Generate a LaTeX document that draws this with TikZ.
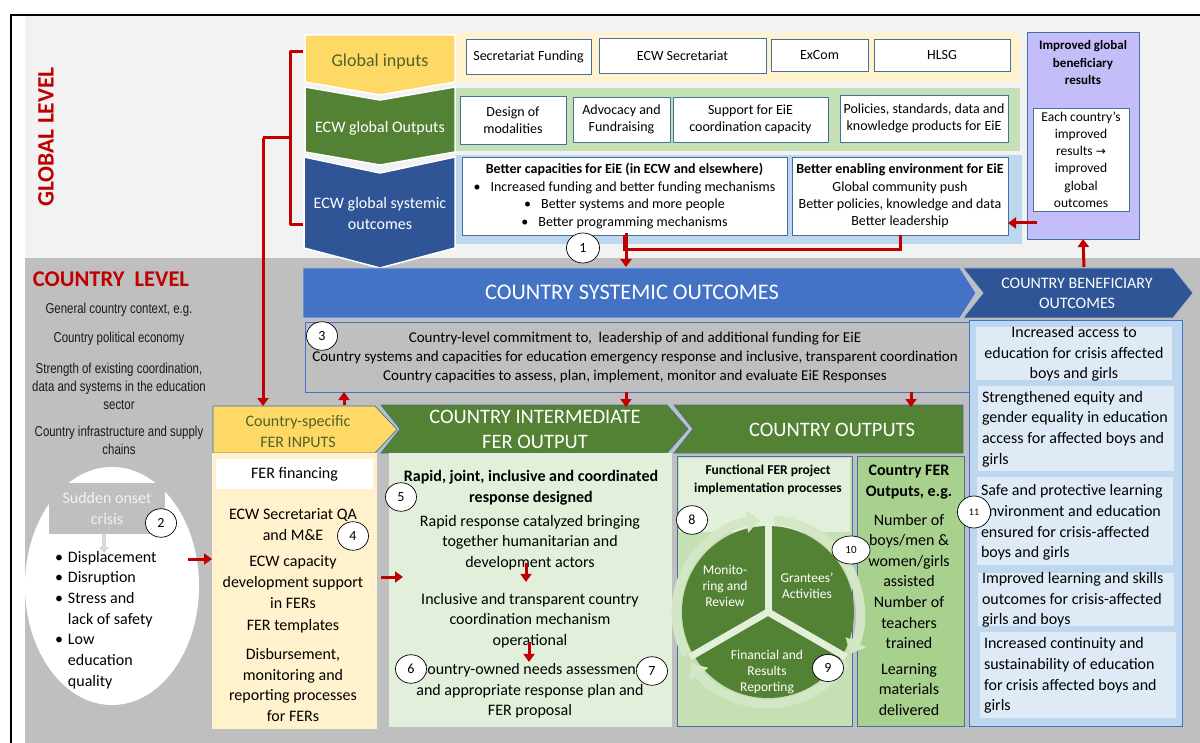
\documentclass[tikz,border=0pt]{standalone}
\usepackage{fontspec}
\setmainfont{Carlito}
\newfontfamily\narrowfont[FakeStretch=0.80]{Liberation Sans}
\newfontfamily\symfont{DejaVu Sans}
\usetikzlibrary{arrows.meta,shapes.geometric,calc}
\newcommand\fsz[2]{\fontsize{#1}{#2}\selectfont}
\newcommand\mybul{\makebox[13pt][l]{\textbullet}}
\definecolor{bgl}{HTML}{F2F2F2}
\definecolor{bgd}{HTML}{BFBFBF}
\definecolor{ecwred}{HTML}{C00000}
\definecolor{yel}{HTML}{FFD966}
\definecolor{yell}{HTML}{FFF2CC}
\definecolor{grn}{HTML}{548235}
\definecolor{grnl}{HTML}{E2EFDA}
\definecolor{grnm}{HTML}{C5E0B4}
\definecolor{grnd}{HTML}{A9D18E}
\definecolor{ringc}{HTML}{D3E7C6}
\definecolor{blu}{HTML}{2F5597}
\definecolor{blum}{HTML}{4472C4}
\definecolor{blul}{HTML}{BDD7EE}
\definecolor{bluvl}{HTML}{DEEBF7}
\definecolor{purpc}{HTML}{C3BEF7}
\definecolor{bord}{HTML}{41719C}
\definecolor{olivec}{HTML}{4F6228}
\definecolor{ctxc}{HTML}{1A1A1A}
\definecolor{ltg}{HTML}{D9D9D9}
\begin{document}
\begin{tikzpicture}[x=1pt,y=-1pt,
  every node/.style={inner sep=0pt,outer sep=0pt},
  wbox/.style={draw=bord,line width=0.8pt,fill=white,align=center,font=\fsz{14}{17.4}},
  num/.style={ellipse,draw=black,line width=0.7pt,fill=white,minimum width=31pt,minimum height=28.5pt,font=\fsz{14}{16}},
  redarr/.style={draw=ecwred,line width=3pt,-{Triangle[length=8pt,width=11pt]}},
  redln/.style={draw=ecwred,line width=3pt},
  gchev/.style={draw=white,line width=1.5pt},
  cchev/.style={draw=bord,line width=0.7pt},
  ctx/.style={font=\narrowfont\fsz{14.3}{18},text=ctxc,align=center},
  bbox/.style={fill=bluvl,minimum width=196pt},
  btxt/.style={font=\fsz{16}{20.7},align=left,anchor=west},
  ptxt/.style={font=\fsz{16}{20.6},align=center},
  wtxt/.style={font=\fsz{13.5}{15.8},align=center,text=white},
]
\useasboundingbox (0,0) rectangle (1200,743);
\fill[white] (0,0) rectangle (1200,743);
\fill[bgl] (25,16) rectangle (1200,258);
\fill[bgd] (25,258) rectangle (1200,743);
\draw[black,line width=2pt] (1200,15) -- (11,15) -- (11,743);

% level labels
\node[rotate=90,font=\fsz{23.5}{26}\bfseries,text=ecwred] (glevel) at (46,137) {GLOBAL LEVEL};
\node[font=\fsz{22.5}{26}\bfseries,text=ecwred] (clevel) at (111,279) {COUNTRY\ \ LEVEL};

% context
\node[ctx] (ctx1) at (119,310) {General country context, e.g.};
\node[ctx] (ctx2) at (119,339) {Country political economy};
\node[ctx] (ctx3) at (119,386) {Strength of existing coordination,\\data and systems in the education\\sector};
\node[ctx] (ctx4) at (119,440) {Country infrastructure and supply\\chains};

% global panels
\fill[yell] (455,33) rectangle (1020,82);
\fill[grnm] (455,88) rectangle (1020,151);
\fill[blul] (455,155) rectangle (1022,244);

% global chevrons
\filldraw[fill=yel,gchev] (305,35) -- (455,35) -- (455,82) -- (380,95) -- (305,82) -- cycle;
\filldraw[fill=grn,gchev] (305,87) -- (380,100) -- (455,87) -- (455,152) -- (380,165) -- (305,152) -- cycle;
\filldraw[fill=blu,gchev] (304,157) -- (380,173) -- (455,157) -- (455,248) -- (380,268) -- (304,248) -- cycle;
\node[font=\fsz{18}{22},text=olivec] (gin) at (380,62) {Global inputs};
\node[font=\fsz{16}{20},text=white] (gout) at (380,128) {ECW global Outputs};
\node[font=\fsz{16}{21},text=white,align=center] (gsys) at (380,214) {ECW global systemic\\outcomes};

% global input boxes
\node[wbox,minimum width=125pt,minimum height=35pt] (secf) at (528.5,56.5) {Secretariat Funding};
\node[wbox,minimum width=167pt,minimum height=35pt] (secr) at (682.5,55.5) {ECW Secretariat};
\node[wbox,minimum width=97pt,minimum height=32pt] (excom) at (819.5,55) {ExCom};
\node[wbox,minimum width=136pt,minimum height=32pt] (hlsg) at (942,55) {HLSG};
% global output boxes
\node[wbox,minimum width=106pt,minimum height=48pt] (design) at (513,120) {Design of\\modalities};
\node[wbox,minimum width=97pt,minimum height=45pt] (advoc) at (621.5,119.5) {Advocacy and\\Fundraising};
\node[wbox,minimum width=155pt,minimum height=45pt] (supp) at (750.5,119.5) {Support for EiE\\coordination capacity};
\node[wbox,minimum width=168pt,minimum height=47pt] (polic) at (924,118.5) {Policies, standards, data and\\knowledge products for EiE};
% global outcomes boxes
\node[wbox,minimum width=325pt,minimum height=78pt] (bcap) at (624.5,196) {\textbf{Better capacities for EiE (in ECW and elsewhere)}\\\textbullet\hspace{10pt}Increased funding and better funding mechanisms\\\textbullet\hspace{10pt}Better systems and more people\\\textbullet\hspace{10pt}Better programming mechanisms};
\node[wbox,minimum width=216pt,minimum height=78pt] (benv) at (900,196) {\textbf{Better enabling environment for EiE}\\Global community push\\Better policies, knowledge and data\\Better leadership};

% purple box
\node[fill=purpc,draw=bord,line width=0.8pt,minimum width=112pt,minimum height=207pt] (purp) at (1083,135.5) {};
\node[font=\fsz{13}{17.5}\bfseries,align=center] (purpt) at (1083,62.5) {Improved global\\beneficiary\\results};
\node[wbox,font=\fsz{13.5}{17.2},minimum width=96pt,minimum height=103pt] (purpin) at (1081,159.5) {Each country’s\\improved\\results {\symfont\fsz{12}{14}→}\\improved\\global\\outcomes};

% bracket and connector to FER inputs
\draw[redln,line join=round] (303,52) -- (290,52) -- (290,225) -- (303,225);
\coordinate (brk) at (263,138);
\coordinate (ferinTop) at (263,406);
\draw[redln] (290,138) -- (brk);
\draw[redarr] (brk) -- (ferinTop);

% country systemic outcomes
\filldraw[fill=blum,draw=white!60!blum,line width=0.8pt] (303,268) -- (960,268) -- (976,293) -- (960,318) -- (303,318) -- cycle;
\node[font=\fsz{22.3}{26},text=white] (csys) at (632,292) {COUNTRY SYSTEMIC OUTCOMES};
\filldraw[fill=blu,draw=white!60!blu,line width=0.8pt] (963,268) -- (1173,268) -- (1193,293) -- (1173,318) -- (963,318) -- (983,293) -- cycle;
\node[font=\fsz{16}{20},text=white,align=center] (cben) at (1077,293) {COUNTRY BENEFICIARY\\OUTCOMES};

% global -> country arrows
\draw[redln] (benv.south) -- ++(0,15) -| (bcap.south);
\draw[redarr] (bcap.south) -- ++(1.5,0) -- ++(0,32);
\node[num,minimum width=33pt,minimum height=30pt] (n1) at (583,248) {1};
\draw[redarr] (1084,267) -- (purp.south);
\draw[redarr] (1037,223) -- ($(benv.east)+(0,27)$);

% box 3
\node[draw=blum,fill=bgd,line width=0.8pt,minimum width=664pt,minimum height=70pt] (box3) at (637,357) {};
\node[font=\fsz{15}{19},align=center] (box3t) at (635,358) {Country-level commitment to,\ \ leadership of and additional funding for EiE\\Country systems and capacities for education emergency response and inclusive, transparent coordination\\Country capacities to assess, plan, implement, monitor and evaluate EiE Responses};
\node[num] (n3) at (322,336) {3};

% country chevrons
\filldraw[fill=yel,cchev] (213,406) -- (375,406) -- (397,429.5) -- (375,453) -- (213,453) -- cycle;
\node[font=\fsz{16}{21},text=olivec,align=center] (cfin) at (298,431.5) {Country-specific\\FER INPUTS};
\filldraw[fill=grn,cchev] (381,405) -- (667,405) -- (688,429) -- (667,453) -- (381,453) -- (400,429) -- cycle;
\node[font=\fsz{20.5}{25},text=white,align=center] (cint) at (535,429.5) {COUNTRY INTERMEDIATE\\FER OUTPUT};
\filldraw[fill=grn,cchev] (674,405) -- (963,405) -- (963,453) -- (674,453) -- (693,429) -- cycle;
\node[font=\fsz{20.5}{24},text=white] (cout) at (832,430) {COUNTRY OUTPUTS};

% arrows box 3
\draw[redarr] ($(box3.south west)+(39,13)$) -- ($(box3.south west)+(39,0)$);
\draw[redarr] ($(box3.south west)+(321,0)$) -- ++(0,15);
\draw[redarr] ($(box3.south west)+(606,0)$) -- ++(0,15);

% crisis ellipse
\node[ellipse,fill=white,minimum width=174pt,minimum height=238pt] (crisis) at (112,586) {};
\node[fill=bgd,minimum width=116pt,minimum height=51pt,align=center,text=bgl,font=\fsz{16}{21}] (sudden) at (107,508.5) {Sudden onset\\crisis};
\node[num] (n2) at (161,523) {2};
\draw[draw=ltg,line width=4pt,-{Triangle[length=6pt,width=10pt]}] ($(sudden.south)+(-3,0)$) -- ++(0,19);
\node[font=\fsz{16}{20.7},align=left,anchor=west] (bullets) at (55,620) {\mybul Displacement\\\mybul Disruption\\\mybul Stress and\\\hspace*{13pt}lack of safety\\\mybul Low\\\hspace*{13pt}education\\\hspace*{13pt}quality};

% FER inputs panel
\node[fill=yell,minimum width=165pt,minimum height=276pt] (ferpanel) at (294.5,591) {};
\node[fill=white,minimum width=157pt,minimum height=30pt,font=\fsz{16}{20}] (ferfin) at (294.5,474) {FER financing};
\node[ptxt] (fer1) at (293,524.5) {ECW Secretariat QA\\and M\&E};
\node[ptxt] (fer2) at (293,582) {ECW capacity\\development support\\in FERs};
\node[ptxt] (fer3) at (293,626) {FER templates};
\node[ptxt] (fer4) at (293,685) {Disbursement,\\monitoring and\\reporting processes\\for FERs};
\node[num] (n4) at (353,536) {4};
\draw[redarr] ($(ferpanel.west)+(-24,-32)$) -- ($(ferpanel.west)+(0,-32)$);

% intermediate panel
\node[fill=grnl,minimum width=283pt,minimum height=274pt] (intpanel) at (530.5,590) {};
\node[ptxt,font=\fsz{16}{20.6}\bfseries] (int0) at (531,487.5) {Rapid, joint, inclusive and coordinated\\response designed};
\node[ptxt] (int1) at (530,542.5) {Rapid response catalyzed bringing\\together humanitarian and\\development actors};
\node[ptxt] (int2) at (530,620.5) {Inclusive and transparent country\\coordination mechanism\\operational};
\node[ptxt] (int3) at (530,691) {Country-owned needs assessment\\and appropriate response plan and\\FER proposal};
\draw[redarr] ($(int1.south)+(-4,-7)$) -- ++(0,19);
\draw[redarr] ($(int2.south)+(-1,-6)$) -- ++(0,20);
\draw[redarr] ($(intpanel.west)+(-8,-13)$) -- ($(intpanel.west)+(14,-13)$);
\node[num] (n5) at (401,497) {5};
\node[num] (n6) at (411,669) {6};
\node[num] (n7) at (652,671) {7};

% functional panel
\node[draw=bord,fill=grnm,line width=0.8pt,minimum width=175pt,minimum height=270pt] (funcp) at (764.5,591) {};
\fill[grnl] (679,458) rectangle (850,532);
\node[font=\fsz{13.5}{18}\bfseries,align=center] (functt) at (768,480) {Functional FER project\\implementation processes};

% country FER outputs panel
\node[draw=bord,fill=grnd,line width=0.8pt,minimum width=107pt,minimum height=270pt] (outp) at (910.5,591) {};
\node[ptxt,font=\fsz{16}{21}\bfseries] (out0) at (909,482.5) {Country FER\\Outputs, e.g.};
\node[ptxt] (out1) at (909,581.5) {Number of\\boys/men \&\\women/girls\\assisted\\Number of\\teachers\\trained};
\node[ptxt] (out2) at (909,689.5) {Learning\\materials\\delivered};

% cycle
\coordinate (cyc) at (768,612);
\fill[grn] (cyc) circle[radius=86];
\foreach \a in {-90,30,150} {\draw[grnl,line width=7pt] (cyc) -- ++(\a:90);}
\foreach \a/\b in {-208/-95,-86/27,33/146} {
  \draw[draw=ringc,line width=9pt,-{Triangle[length=13pt,width=22pt]}] (cyc) ++(\a:92) arc[start angle=\a,end angle=\b,radius=92];
}
\node[wtxt] (cyc1) at (725,586) {Monito-\\ring and\\Review};
\node[wtxt] (cyc2) at (807,586) {Grantees'\\Activities};
\node[wtxt] (cyc3) at (767,672) {Financial and\\Results\\Reporting};
\node[num] (n8) at (692,520) {8};
\node[num,minimum width=31pt,minimum height=27pt] (n9) at (828,668) {9};
\node[num,minimum width=38pt,minimum height=28pt,font=\fsz{11}{13}] (n10) at (851,550) {10};

% beneficiary panel
\node[draw=blum,fill=blul,line width=0.8pt,minimum width=213pt,minimum height=406pt] (benp) at (1075.5,523) {};
\node[bbox,minimum height=53pt] (b1) at (1074,353.5) {};
\node[font=\fsz{16}{20.7},align=center] (b1t) at (1074,354) {Increased access to\\education for crisis affected\\boys and girls};
\node[bbox,minimum height=85pt] (b2) at (1076,428.5) {};
\node[btxt] (b2t) at ($(b2.west)+(4,0.5)$) {Strengthened equity and\\gender equality in education\\access for affected boys and\\girls};
\node[bbox,minimum height=88pt] (b3) at (1075,521) {};
\node[btxt] (b3t) at ($(b3.west)+(4,1.5)$) {Safe and protective learning\\environment and education\\ensured for crisis-affected\\boys and girls};
\node[bbox,minimum height=53pt] (b4) at (1076,599.5) {};
\node[btxt] (b4t) at ($(b4.west)+(4,0.5)$) {Improved learning and skills\\outcomes for crisis-affected\\girls and boys};
\node[bbox,minimum height=86pt] (b5) at (1078,675) {};
\node[btxt] (b5t) at ($(b5.west)+(4,0.5)$) {Increased continuity and\\sustainability of education\\for crisis affected boys and\\girls};
\node[num,minimum width=33pt,minimum height=32pt,font=\fsz{10}{12}] (n11) at (974,512) {11};
\end{tikzpicture}
\end{document}
